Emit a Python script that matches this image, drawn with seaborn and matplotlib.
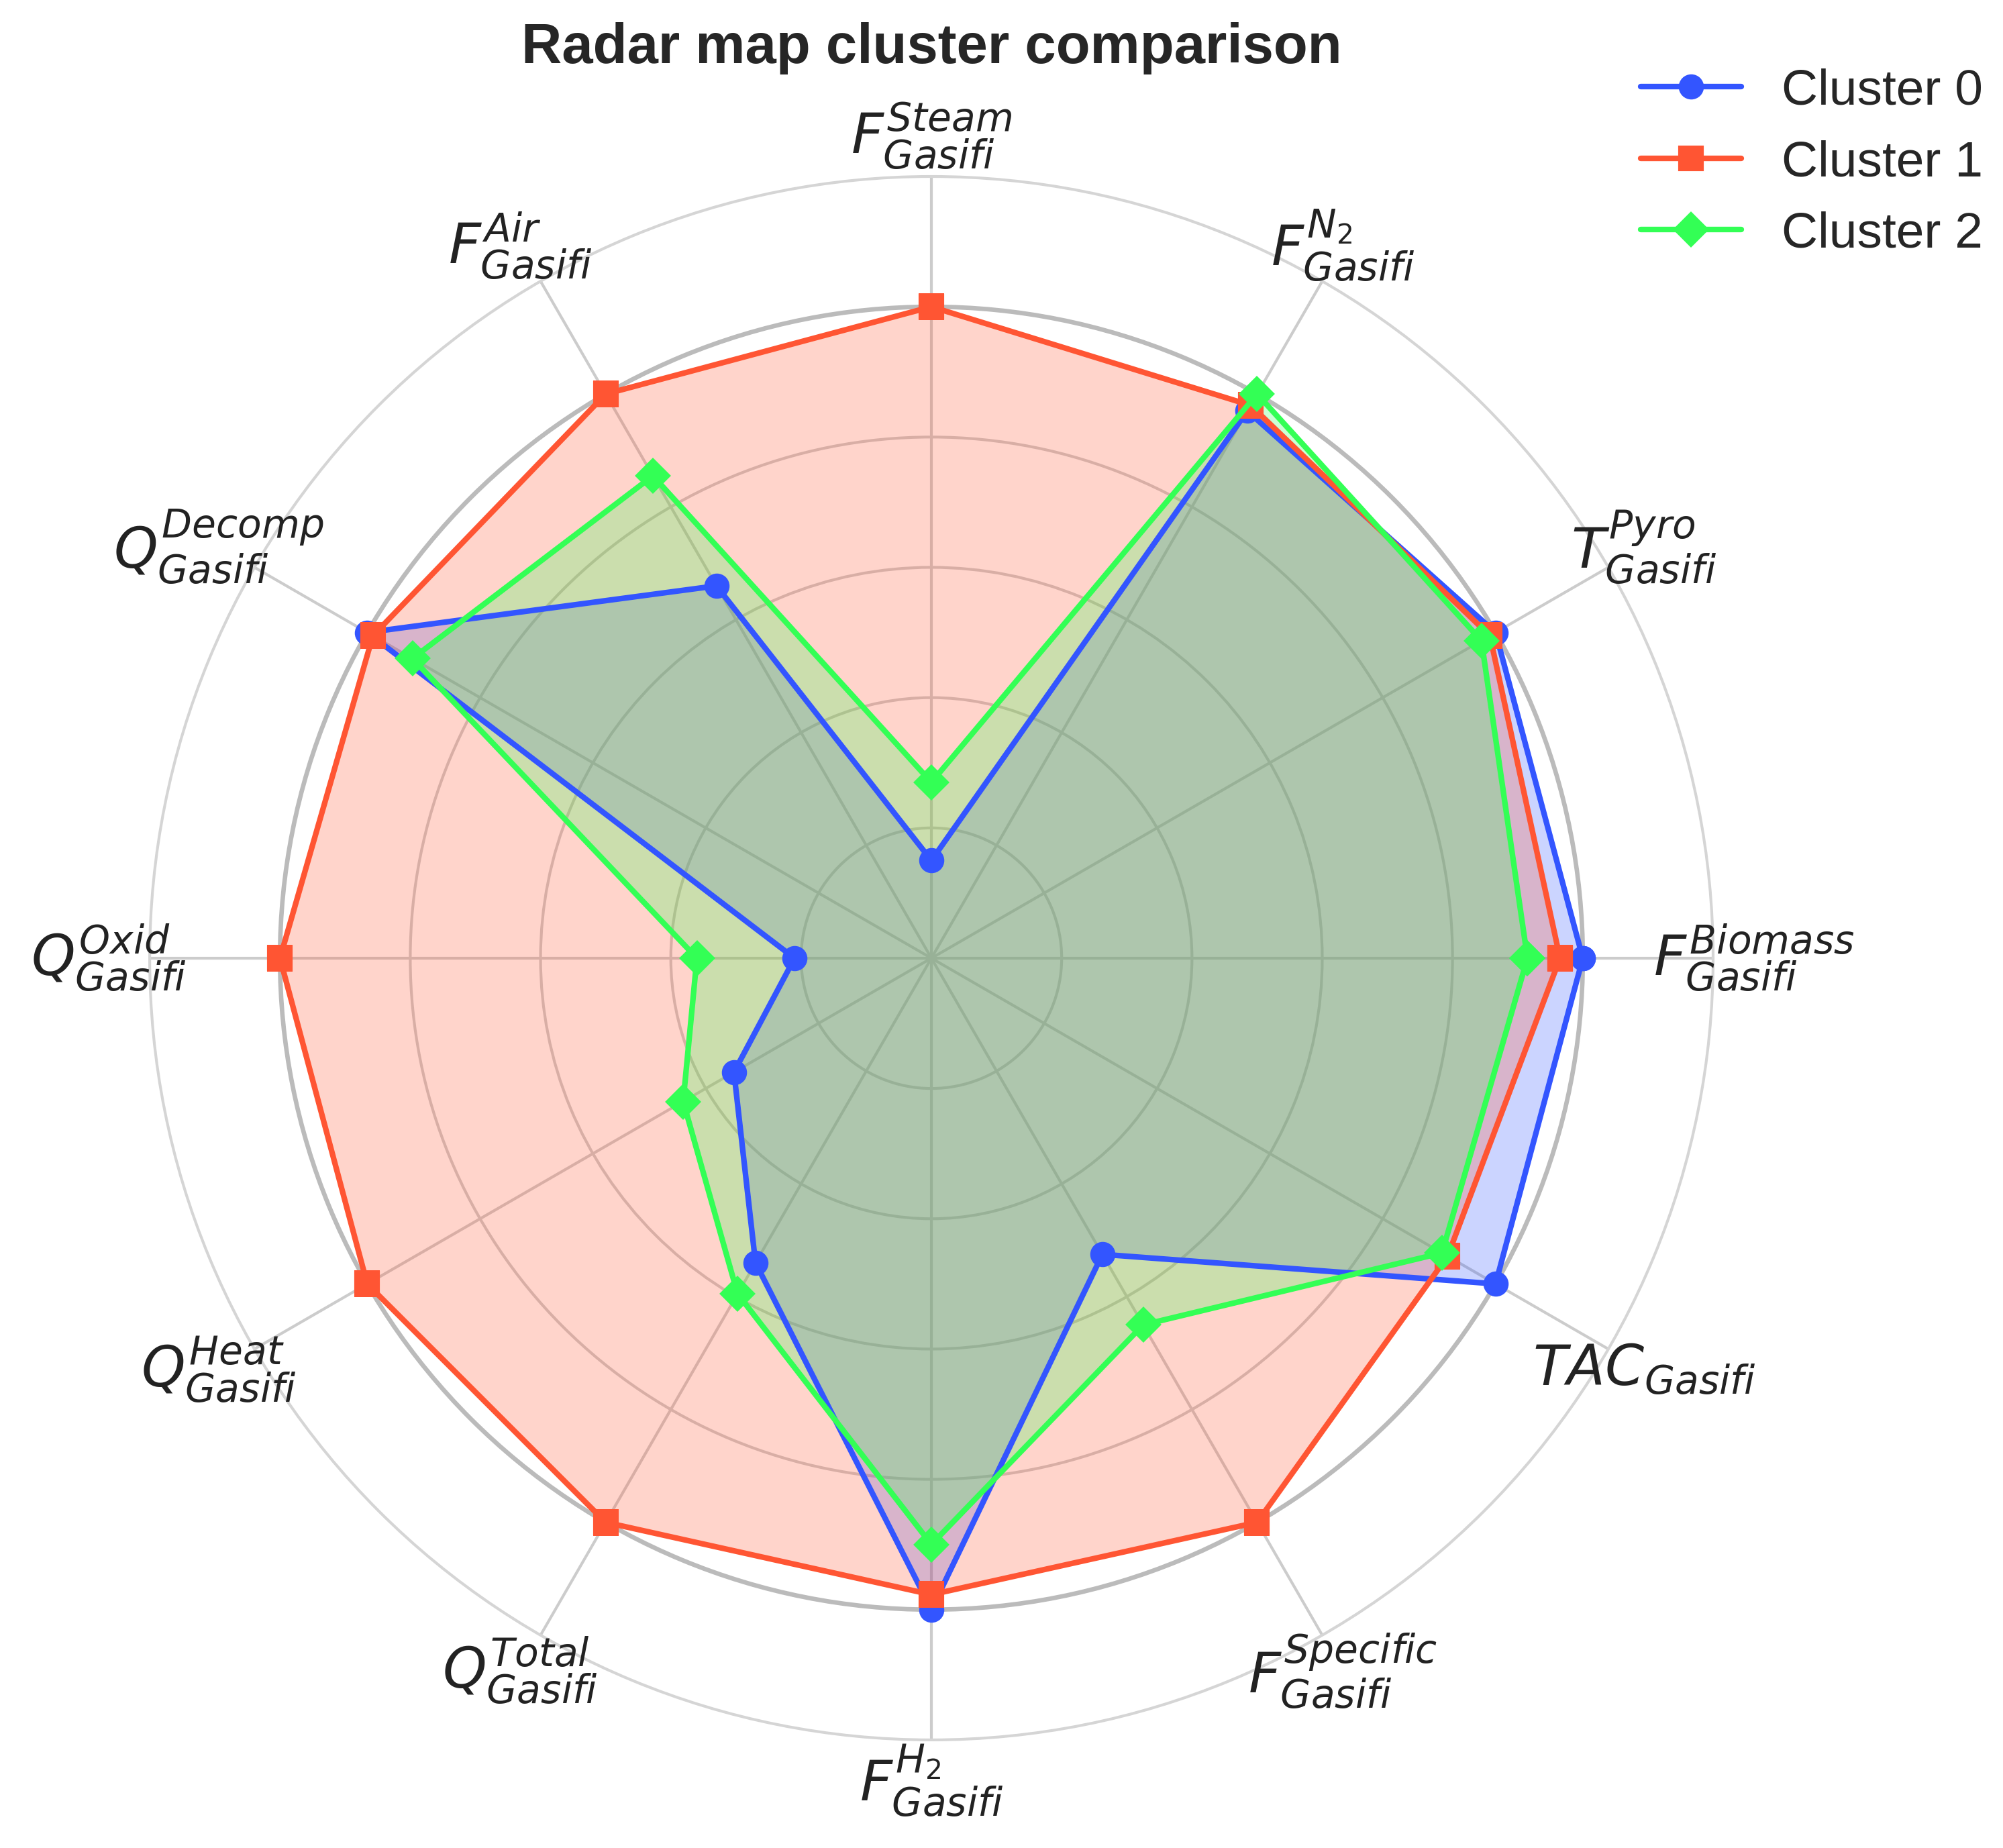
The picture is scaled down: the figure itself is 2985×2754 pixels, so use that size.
import numpy as np
import seaborn as sns
import matplotlib.pyplot as plt

# axis labels, counter-clockwise from the right
labels = [r'$F_{Gasifi}^{Biomass}$', r'$T_{Gasifi}^{Pyro}$', r'$F_{Gasifi}^{N_2}$',
          r'$F_{Gasifi}^{Steam}$', r'$F_{Gasifi}^{Air}$', r'$Q_{Gasifi}^{Decomp}$',
          r'$Q_{Gasifi}^{Oxid}$', r'$Q_{Gasifi}^{Heat}$', r'$Q_{Gasifi}^{Total}$',
          r'$F_{Gasifi}^{H_2}$', r'$F_{Gasifi}^{Specific}$', r'$TAC_{Gasifi}$']

cluster_names = ['Cluster 0', 'Cluster 1', 'Cluster 2']
cluster0 = [1.0, 1.0, 0.97, 0.15, 0.66, 1.0, 0.21, 0.35, 0.54, 1.0, 0.525, 1.0]
cluster1 = [0.965, 0.99, 0.98, 1.0, 1.0, 0.99, 1.0, 1.0, 1.0, 0.977, 1.0, 0.915]
cluster2 = [0.915, 0.975, 1.0, 0.27, 0.855, 0.92, 0.36, 0.44, 0.595, 0.90, 0.65, 0.905]

colors = ['#3355FF', '#FF5533', '#33FF55']
markers = ['o', 's', 'D']


def main():
    sns.set_theme(style='whitegrid')
    plt.rcParams['font.family'] = ['Liberation Sans', 'DejaVu Sans']
    plt.rcParams['mathtext.fontset'] = 'dejavusans'

    fig = plt.figure(figsize=(9.95, 9.18), dpi=300)
    ax = fig.add_axes([0.0747, 0.0585, 0.7806, 0.846], projection='polar')

    n = len(labels)
    angles = np.linspace(0, 2 * np.pi, n, endpoint=False)
    closed = np.concatenate([angles, angles[:1]])

    for name, vals, c, m in zip(cluster_names, [cluster0, cluster1, cluster2], colors, markers):
        v = np.concatenate([vals, vals[:1]])
        ax.plot(closed, v, color=c, marker=m, markersize=8, linewidth=2, label=name)
        ax.fill(closed, v, color=c, alpha=0.25)

    ax.set_ylim(0, 1.2)
    ax.set_yticks([0.2, 0.4, 0.6, 0.8, 1.0])
    ax.set_yticklabels([])
    ax.set_xticks(angles)
    ax.set_xticklabels([])
    ax.grid(color='#cccccc', linewidth=1)
    ax.yaxis.get_gridlines()[-1].set_color('#bbbbbb')
    ax.yaxis.get_gridlines()[-1].set_linewidth(1.6)
    ax.spines['polar'].set_color('#d5d5d5')
    ax.spines['polar'].set_linewidth(1)

    for a, lab in zip(angles, labels):
        ax.text(a, 1.263, lab, fontsize=20, ha='center', va='center', color='#222222')

    ax.set_title('Radar map cluster comparison', fontsize=20, fontweight='bold',
                 pad=40.5, color='#262626')
    fig.legend(loc='upper right', bbox_to_anchor=(1.0, 0.974), borderaxespad=0,
               frameon=False, fontsize=18)

    fig.savefig('out.png', dpi=300)


if __name__ == '__main__':
    main()
